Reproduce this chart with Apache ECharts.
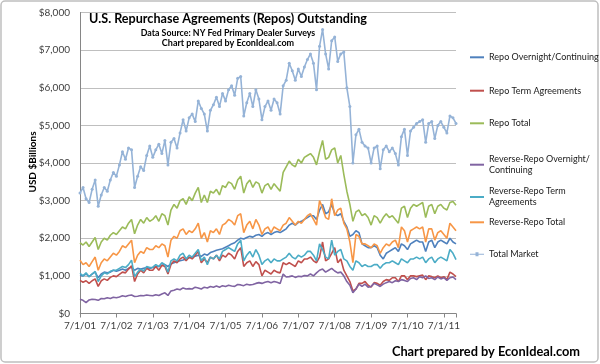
<!DOCTYPE html>
<html><head><meta charset="utf-8">
<script src="https://cdn.jsdelivr.net/npm/echarts@6/dist/echarts.min.js"></script>
<style>html,body{margin:0;padding:0;background:#fff}#c{width:600px;height:364px}</style>
</head><body><div id="c"></div>
<script>
// Monthly observations starting 7/1/2001 (index 0) through ~11/2011 (index 124), $ billions
const seriesNames = ['Repo Overnight/Continuing','Repo Term Agreements','Repo Total','Reverse-Repo Overnight/Continuing','Reverse-Repo Term Agreements','Reverse-Repo Total','Total Market'];
const xTickLabels = ['7/1/01','7/1/02','7/1/03','7/1/04','7/1/05','7/1/06','7/1/07','7/1/08','7/1/09','7/1/10','7/1/11'];
const yTickLabels = ['$0','$1,000','$2,000','$3,000','$4,000','$5,000','$6,000','$7,000','$8,000'];

const repoOvernight = [1020,1000,1050,980,1050,1100,950,1050,1100,1080,1100,1150,1120,1150,1180,1150,1200,1230,1150,1200,1180,1200,1220,1200,1220,1250,1250,1280,1300,1250,1320,1350,1380,1400,1420,1450,1480,1500,1520,1550,1520,1580,1550,1620,1650,1680,1700,1720,1760,1800,1850,1880,1950,2000,1980,2020,2050,2030,2080,2100,2050,2120,2150,2100,2150,2180,2150,2200,2250,2350,2400,2350,2420,2450,2500,2550,2600,2600,2500,2750,2900,2650,2700,2900,2650,2600,2650,2450,2300,2050,2100,2200,2150,1850,1800,1750,1750,1800,1750,1550,1450,1600,1650,1700,1750,1650,1850,1800,1700,1850,1900,1950,1900,1900,1650,1900,1950,1750,1900,1950,1900,1850,2000,1900,1850];
const repoTerm = [880,830,870,800,870,920,720,870,920,880,960,1000,980,1040,1100,1080,1180,1270,850,1050,1150,1080,1200,1150,1150,1250,1150,1280,1250,1050,1300,1400,1350,1450,1500,1400,1500,1450,1550,1650,1350,1450,1350,1500,1450,1550,1400,1550,1500,1600,1550,1450,1650,1750,1250,1350,1400,1250,1380,1300,1000,1150,1100,1050,1150,1100,1080,1350,1300,1350,1300,1250,1400,1350,1450,1450,1500,1400,1350,1500,1900,1400,1450,1600,1750,1350,1450,1150,1000,850,600,650,800,800,850,750,700,820,800,750,850,900,880,950,950,850,1000,1000,900,1000,1000,980,1000,1020,900,1000,980,950,1000,950,980,900,1100,1050,980];
const repoTotal = [1880,1820,1900,1780,1900,2020,1700,1900,2000,1950,2080,2150,2100,2200,2300,2250,2400,2500,2120,2350,2500,2400,2550,2450,2500,2600,2450,2650,2600,2350,2750,2900,2800,3000,3050,2900,3100,3000,3200,3350,2950,3150,2950,3250,3200,3300,3150,3400,3350,3500,3450,3300,3550,3650,3200,3450,3550,3350,3500,3450,3200,3400,3450,3300,3450,3350,3250,3750,3900,4050,3950,3900,4100,4000,4150,4200,4250,4150,3950,4300,4600,4100,4150,4350,4400,4000,4200,3700,3250,2900,2450,2700,2750,2600,2650,2550,2350,2600,2550,2400,2550,2650,2550,2600,2500,2400,2800,2850,2550,2800,2900,2850,2900,2950,2550,2850,2900,2650,2850,2900,2800,2750,2950,2980,2880];
const rrOvernight = [380,350,290,360,380,370,350,400,390,420,400,430,420,440,470,450,480,490,450,460,480,470,490,480,470,500,480,520,550,480,600,620,650,630,680,650,660,650,700,680,650,700,680,720,700,730,700,740,720,750,730,720,770,760,740,780,760,770,800,820,800,830,850,820,850,830,800,1050,970,980,1000,960,990,980,1010,1000,1050,1000,1080,1150,1180,1100,1150,1200,1130,1080,1100,1000,850,750,550,650,780,720,780,700,720,800,760,720,780,820,850,820,870,850,900,880,850,930,950,900,980,950,1000,930,950,900,970,920,950,880,950,970,900];
const rrTerm = [1070,1000,1080,980,1050,1120,850,1000,1080,1050,1120,1150,1150,1200,1250,1220,1300,1420,980,1100,1180,1130,1250,1220,1230,1300,1250,1350,1300,1100,1400,1450,1400,1550,1600,1450,1550,1500,1600,1700,1400,1500,1300,1500,1450,1550,1450,1650,1700,1750,1700,1650,1850,1950,1400,1550,1650,1500,1700,1550,1300,1400,1450,1350,1450,1400,1400,1450,1500,1600,1500,1450,1550,1500,1550,1650,1650,1550,1400,1850,1700,1500,1450,1950,1550,1650,1700,1450,1400,1250,1150,1400,1350,1250,1300,1250,1250,1300,1300,1200,1300,1350,1350,1400,1350,1300,1450,1400,1350,1450,1450,1500,1450,1500,1350,1450,1500,1350,1450,1500,1450,1400,1700,1600,1430];
const rrTotal = [1420,1300,1350,1250,1380,1500,1150,1350,1450,1400,1500,1600,1550,1650,1800,1750,1850,1950,1350,1550,1650,1600,1750,1700,1700,1800,1750,1850,1800,1500,1950,2050,2000,2200,2250,2100,2200,2150,2250,2400,2000,2150,1900,2200,2150,2250,2100,2350,2400,2500,2450,2350,2600,2650,2150,2350,2450,2250,2500,2350,2100,2250,2300,2150,2300,2250,2200,2350,2400,2550,2450,2350,2450,2400,2500,2600,2650,2500,2350,3000,2800,2550,2500,3050,2600,2750,2800,2400,2250,1900,1350,2100,2050,1850,1850,1800,1750,1850,1800,1600,1750,1850,1800,1900,1950,1750,2300,2200,1900,2200,2250,2300,2250,2300,1900,2250,2250,1950,2150,2200,2100,2000,2400,2300,2200];
const totalMarket = [3200,3350,3050,2950,3300,3550,2850,3150,3350,3250,3550,3750,3650,3950,4300,4100,4400,4350,3350,3650,3900,3800,4200,4450,4150,4350,4500,4250,4600,3950,4550,4650,4400,4800,5150,4850,5200,5300,5100,5650,5450,5300,4850,5400,5550,5750,5500,5850,5650,5950,6050,5800,6250,6300,5250,5600,5850,5500,5950,5700,5150,5500,5650,5400,5700,5600,5300,6050,6200,6650,6450,6200,6500,6300,6550,6750,6900,6650,5950,7100,7550,6900,6500,7250,7350,6700,6900,6950,6000,5500,4000,4750,4900,4550,4450,4400,4000,4400,4450,3850,4350,4450,4300,4400,4250,3950,4700,4900,4200,4850,4950,5050,5100,5150,4550,5050,5100,4650,5000,5100,4950,4800,5250,5200,5050];

const colors = ['#4F81BD','#C0504D','#9BBB59','#8064A2','#4BACC6','#F79646','#95B3D7'];
const values = [repoOvernight, repoTerm, repoTotal, rrOvernight, rrTerm, rrTotal, totalMarket];
const toPairs = arr => arr.map((v, i) => [i, v]);

const FONT = 'Lato, "Open Sans", sans-serif';
const series = seriesNames.map((name, k) => {
  const isTotal = k === 6;
  return {
    name, type: 'line', data: toPairs(values[k]),
    symbol: isTotal ? 'circle' : 'none', symbolSize: isTotal ? 3 : 0,
    showSymbol: isTotal,
    lineStyle: { color: colors[k], width: 1.6 },
    itemStyle: { color: colors[k], borderWidth: 0 },
    color: colors[k],
    z: 2 + k, silent: true
  };
});

const legendTops = [51.8, 85.2, 117.8, 148.2, 180.5, 216.8, 248.8];
const legendLabels = ['Repo Overnight/Continuing','Repo Term Agreements','Repo Total','Reverse-Repo Overnight/\nContinuing','Reverse-Repo Term\nAgreements','Reverse-Repo Total','Total Market'];
const lineIcon = 'rect';
const markerIcon = 'path://M0,2 L14,2 L14,3 L0,3 Z M5.5,0.5 L8.5,0.5 L8.5,4.5 L5.5,4.5 Z';
const legends = seriesNames.map((name, k) => ({
  data: [name], left: 470, top: legendTops[k], orient: 'vertical', padding: 0,
  icon: k === 6 ? markerIcon : lineIcon,
  itemWidth: 14, itemHeight: k === 6 ? 5 : 2, itemGap: 0,
  itemStyle: { borderWidth: 0 },
  formatter: () => legendLabels[k],
  textStyle: Object.assign({ fontFamily: FONT, fontSize: 9, color: '#1a1a1a', lineHeight: 11 },
    legendLabels[k].includes('\n') ? { padding: [11, 0, 0, 0] } : {})
}));

const txt = (x, y, text, size, extra) => Object.assign({
  type: 'text', x, y, z: 100,
  style: { text, fontFamily: FONT, fontWeight: 'bold', fontSize: size, fill: '#000', align: 'center', verticalAlign: 'middle' }
}, extra || {});

const chart = echarts.init(document.getElementById('c'), null, { renderer: 'canvas' });
chart.setOption({
  animation: false,
  backgroundColor: '#fff',
  grid: { left: 80, right: 144, top: 12.5, bottom: 50.5, containLabel: false },
  xAxis: {
    type: 'value', min: 0, max: 124, interval: 12,
    axisLine: { lineStyle: { color: '#868686', width: 1 } },
    axisTick: { show: true, length: 4, lineStyle: { color: '#868686' } },
    splitLine: { show: false },
    axisLabel: {
      fontFamily: FONT, fontSize: 10, color: '#404040', margin: 7,
      formatter: v => (v % 12 === 0 ? xTickLabels[v / 12] : '')
    }
  },
  yAxis: {
    type: 'value', min: 0, max: 8000, interval: 1000,
    axisLine: { show: true, lineStyle: { color: '#868686', width: 1 } },
    axisTick: { show: false },
    splitLine: { lineStyle: { color: '#BFBFBF', width: 1 } },
    axisLabel: {
      fontFamily: FONT, fontSize: 10, color: '#404040', margin: 10,
      formatter: v => yTickLabels[v / 1000]
    }
  },
  legend: legends,
  series,
  graphic: [
    { type: 'rect', shape: { x: 1, y: 1, width: 597, height: 361, r: 4 }, style: { fill: 'none', stroke: '#BFBFBF', lineWidth: 1.5 }, silent: true, z: -1 },
    txt(228, 19, 'U.S. Repurchase Agreements (Repos) Outstanding', 12.6),
    txt(228, 33, 'Data Source: NY Fed Primary Dealer Surveys', 8.8),
    txt(228, 43.5, 'Chart prepared by EconIdeal.com', 9),
    txt(33, 162, 'USD $Billions', 10, { rotation: Math.PI / 2 }),
    txt(486, 351.5, 'Chart prepared by EconIdeal.com', 12.8)
  ]
});
</script></body></html>
